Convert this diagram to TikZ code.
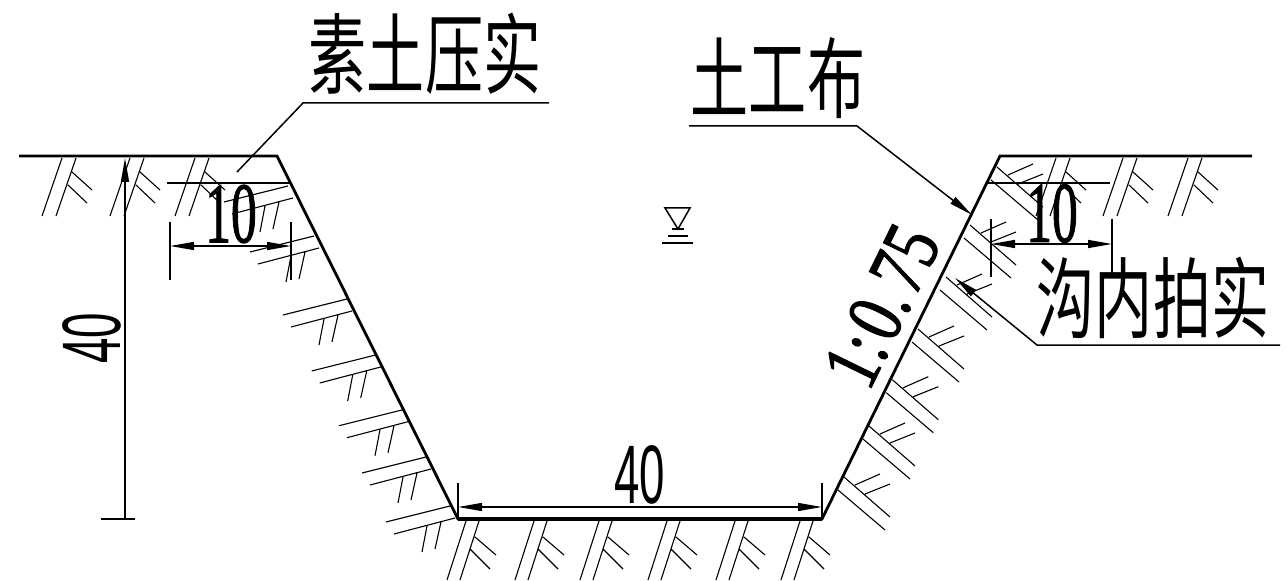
\documentclass[tikz,border=0pt]{standalone}
\usepackage{fontspec}
\setmainfont{Liberation Serif}
\newfontfamily\numserif[FakeBold=1.5]{Liberation Serif}
\newfontfamily\numsans{Liberation Sans}
\newfontfamily\cjk{Noto Sans CJK SC}
\usetikzlibrary{arrows.meta}
\tikzset{
  soil/.style={line width=1.1bp},
  outline/.style={line width=2.8bp},
  dimln/.style={line width=1.4bp},
  extln/.style={line width=1.6bp},
  leaderln/.style={line width=1.5bp},
  tipped/.style={-{Triangle[length=24bp,width=8bp]}},
  twotips/.style={{Triangle[length=24bp,width=8bp]}-{Triangle[length=24bp,width=8bp]}},
  cjklabel/.style={inner sep=0pt,font=\cjk\fontsize{88bp}{88bp}\selectfont,xscale=.66,transform shape},
  tenlabel/.style={inner sep=0pt,font=\numserif\fontsize{86bp}{86bp}\selectfont,xscale=.6,transform shape},
  fortylabel/.style={inner sep=0pt,font=\numsans\fontsize{83bp}{83bp}\selectfont,xscale=.55,transform shape},
  slopelabel/.style={inner sep=0pt,font=\numserif\fontsize{80bp}{80bp}\selectfont,rotate=64,xscale=.78,transform shape},
}
\newcommand{\tophatch}[1]{\begin{scope}[shift={(#1,0)}]
  \draw[soil] (62,158)--(42,216) (76,158)--(56,216) (72,172)--(92,190) (68,185)--(87,203);
\end{scope}}
\newcommand{\lefthatch}[2]{\begin{scope}[shift={(#1,#2)}]
  \draw[soil] (347,299)--(283,315) (352,311)--(291,327) (324,319)--(319,345) (338,315)--(332,342);
\end{scope}}
\newcommand{\righthatch}[2]{\begin{scope}[shift={(#1,#2)}]
  \draw[soil] (918,329)--(964,369) (912,342)--(959,382) (929,337)--(954,326) (939,346)--(964,336);
\end{scope}}
\newcommand{\basehatch}[1]{\begin{scope}[shift={(#1,0)}]
  \draw[soil] (466,521)--(447,580) (479,521)--(460,580) (475,537)--(496,555) (470,549)--(490,569);
\end{scope}}
\begin{document}
\begin{tikzpicture}[x=1bp,y=-1bp]
\useasboundingbox (0,0) rectangle (1287,581);
% outline
\coordinate (gl) at (19,156); \coordinate (a) at (277,156); \coordinate (b) at (458,519);
\coordinate (c) at (822,519); \coordinate (d) at (1000,156); \coordinate (gr) at (1252,156);
\draw[outline,line join=miter] (gl)--(a)--(b)--(c)--(d)--(gr);
\draw[line width=3.6bp] (b)--(c);
% hatching
\foreach \o in {0,68,133} {\tophatch{\o}}
\foreach \o in {994,1061,1126} {\tophatch{\o}}
\foreach \o in {0,68,133,201,269,334} {\basehatch{\o}}
\foreach \p/\q in {-59/-113,-33/-63,0/0,28.7/56,56/110.7,79/158,103/207} {\lefthatch{\p}{\q}}
\foreach \p/\q in {79/-162,52/-104,28/-52,0/0,-25.7/50.7,-49/97,-74/148} {\righthatch{\p}{\q}}
% compaction lines
\coordinate (cl1) at (167,183); \coordinate (cl2) at (290,183);
\coordinate (cr1) at (988,183); \coordinate (cr2) at (1110,183);
\draw[line width=2.6bp] (cl1)--(cl2) (cr1)--(cr2);
% dimension 40 vertical
\coordinate (v1) at (125,158); \coordinate (v2) at (125,519);
\coordinate (vt1) at (101,519); \coordinate (vt2) at (135,519);
\draw[extln,tipped] (v2)--(v1);
\draw[extln] (vt1)--(vt2);
\node[rotate=90,fortylabel] (lab40v) at (92,338.5) {40};
% dimension 10 left
\coordinate (l1) at (170,222); \coordinate (l1b) at (170,280); \coordinate (l2) at (291,222); \coordinate (l2b) at (291,280);
\coordinate (la) at (170,246); \coordinate (lb) at (291,246);
\draw[extln] (l1)--(l1b) (l2)--(l2b);
\draw[dimln,twotips] (la)--(lb);
\node[tenlabel] (lab10l) at (231,214) {10};
% dimension 10 right
\coordinate (r1) at (991,219); \coordinate (r1b) at (991,277); \coordinate (r2) at (1112,219); \coordinate (r2b) at (1112,277);
\coordinate (ra) at (991,244); \coordinate (rb) at (1112,244);
\draw[extln] (r1)--(r1b) (r2)--(r2b);
\draw[dimln,twotips] (ra)--(rb);
\node[tenlabel] (lab10r) at (1052,213.5) {10};
% dimension 40 bottom
\coordinate (m1) at (458,483); \coordinate (m2) at (822,483);
\coordinate (ma) at (458,507); \coordinate (mb) at (822,507);
\draw[extln] (m1)--(b) (m2)--(c);
\draw[dimln,twotips] (ma)--(mb);
\node[fortylabel] (lab40b) at (640,475) {40};
% slope
\node[slopelabel] (slope) at (882,306) {1:\kern6bp 0.\kern6bp 75};
% leaders
\node[cjklabel] (t1) at (425,54) {素土压实};
\node[cjklabel] (t2) at (778,78) {土工布};
\node[cjklabel] (t3) at (1153,298) {沟内拍实};
\coordinate (p1) at (549,103); \coordinate (p2) at (303,103); \coordinate (p3) at (237,172);
\draw[leaderln] (p1)--(p2)--(p3);
\coordinate (q1) at (689,126); \coordinate (q2) at (857,126); \coordinate (q3) at (972,215);
\draw[leaderln,tipped] (q1)--(q2)--(q3);
\coordinate (s1) at (1280,345); \coordinate (s2) at (1037,345); \coordinate (s3) at (955,278);
\draw[leaderln,tipped] (s1)--(s2)--(s3);
% water level symbol
\coordinate (w1) at (665,208); \coordinate (w2) at (690,208); \coordinate (w3) at (678,229);
\draw[line width=1.5bp] (w1)--(w2)--(w3)--cycle;
\draw[line width=1.5bp] (672,229)--(684,229) (668,236)--(688,236) (662,243)--(693,243);
\end{tikzpicture}
\end{document}
